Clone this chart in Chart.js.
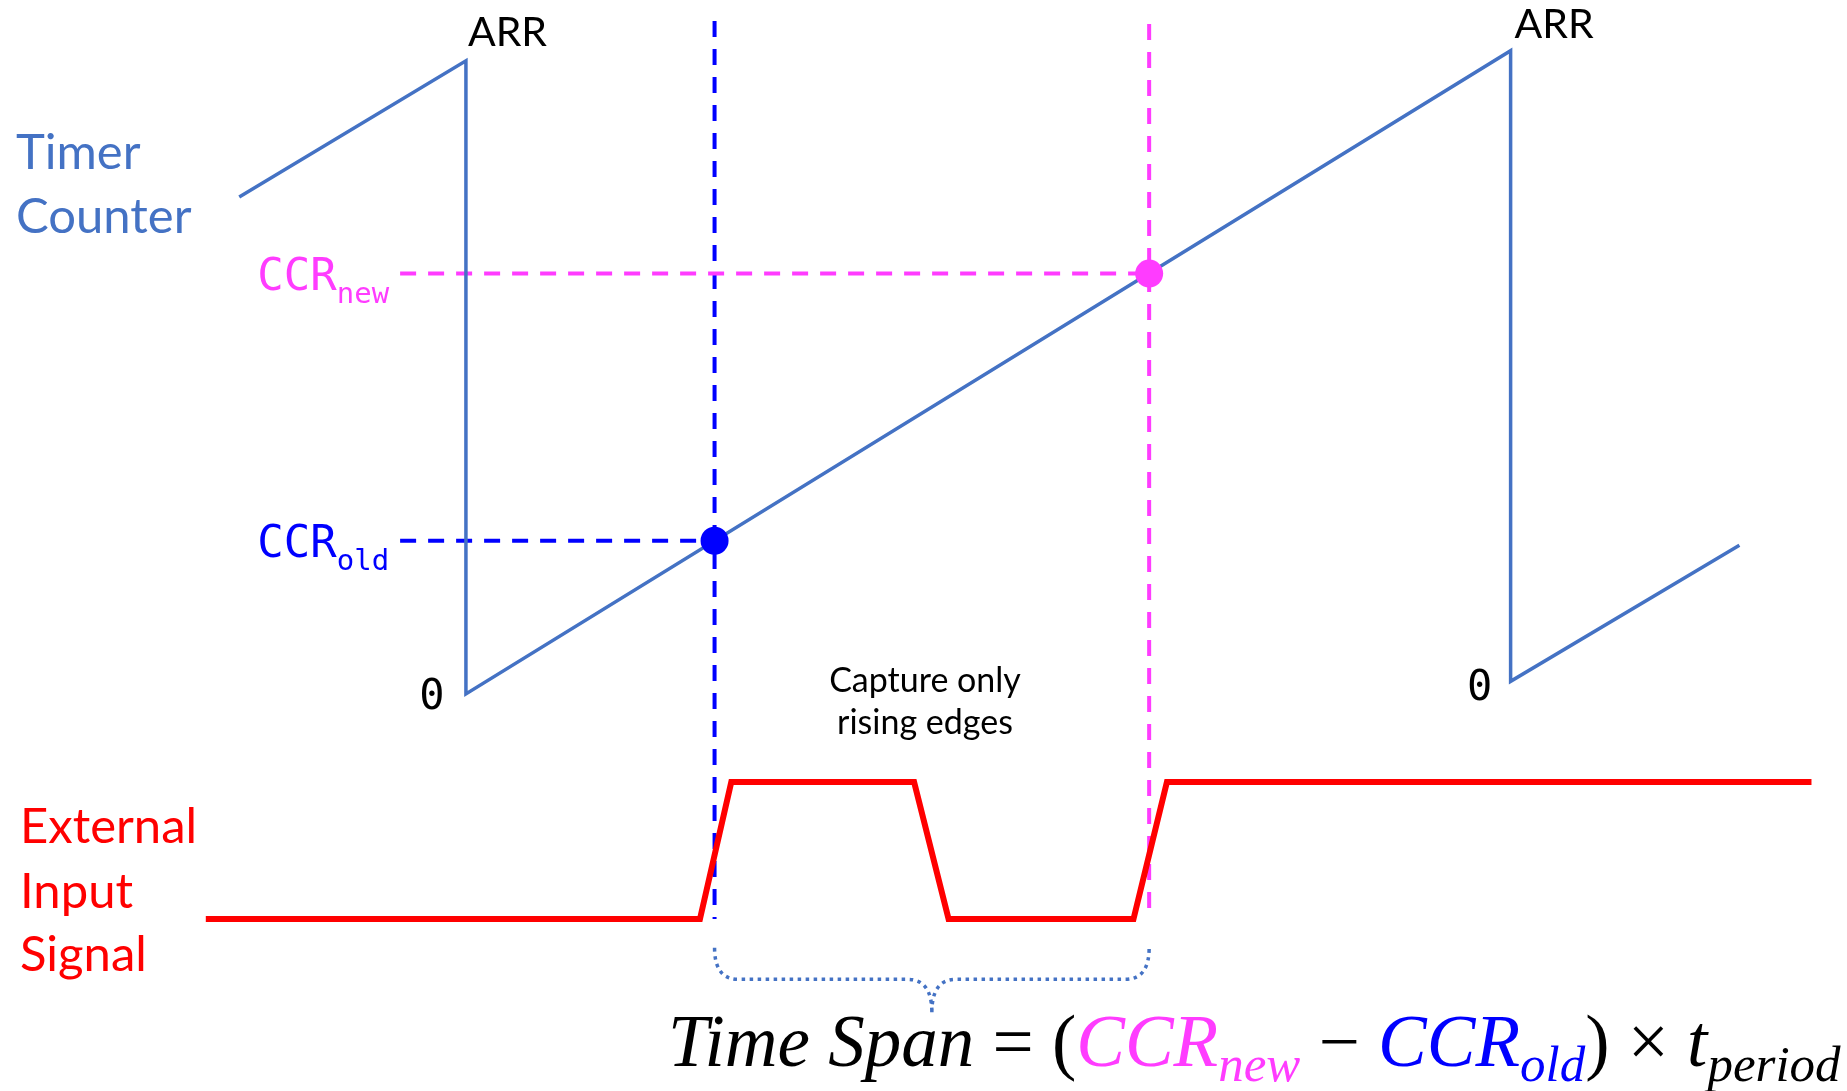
<!DOCTYPE html>
<html>
<head>
<meta charset="utf-8">
<script src="https://cdn.jsdelivr.net/npm/chart.js@4.4.1/dist/chart.umd.min.js"></script>
<style>
html, body { margin: 0; padding: 0; background: #ffffff; }
#wrap { width: 1847px; height: 1091px; position: relative; }
</style>
</head>
<body>
<div id="wrap"><canvas id="myChart"></canvas></div>
<script>
// time axis: one timer period = 100 units (overflow at t=0 and t=100)
var counterTimes = [-21.7, 0, 0, 100, 100, 121.9];
var counterValues = [785, 1000, 0, 1016, 20, 235];

// external input signal (0 = low, 1 = high)
var signalTimes = [-24.9, 22.4, 25.4, 42.9, 46.2, 63.9, 67.1, 128.8];
var signalLevels = [0, 0, 1, 1, 0, 0, 1, 1];

// capture events: old, new
var captureTimes = [23.8, 65.4];
var captureValues = [242, 664];
var captureNames = ['old', 'new'];
var guideStart = -6.3;          // horizontal CCR guides start here
var guideTops = [1063, 1058];   // top of vertical guides (counter units)

var blueLine = '#4472c4';
var oldColor = '#0000ff';
var newColor = '#ff3cff';
var captureColors = [oldColor, newColor];

function pts(xs, ys) {
    var out = [];
    for (var i = 0; i < xs.length; i++) out.push({x: xs[i], y: ys[i]});
    return out;
}

// dashed vertical guides, drawn under the lines
var guidePlugin = {
    id: 'guides',
    beforeDatasetsDraw: function(chart) {
        var c = chart.ctx, sx = chart.scales.x, yc = chart.scales.yc, ys = chart.scales.ys;
        c.save();
        c.lineWidth = 4;
        c.setLineDash([16, 12]);
        for (var i = 0; i < captureTimes.length; i++) {
            var px = sx.getPixelForValue(captureTimes[i]);
            c.strokeStyle = captureColors[i];
            c.beginPath();
            c.moveTo(px, yc.getPixelForValue(guideTops[i]));
            c.lineTo(px, ys.getPixelForValue(0));
            c.stroke();
        }
        c.restore();
    }
};

// all texts + the brace
var textPlugin = {
    id: 'texts',
    afterDatasetsDraw: function(chart) {
        var c = chart.ctx, sx = chart.scales.x, yc = chart.scales.yc, ys = chart.scales.ys;
        c.save();
        c.textBaseline = 'middle';
        c.textAlign = 'left';

        // left titles
        c.font = '49px Lato';
        c.fillStyle = blueLine;
        c.fillText('Timer', 16, 153);
        c.fillText('Counter', 16, 217);
        c.fillStyle = '#ff0000';
        c.fillText('External', 20, 827);
        c.fillText('Input', 20, 892);
        c.fillText('Signal', 20, 955);

        // ARR and 0 near the sawtooth corners
        c.fillStyle = '#000';
        c.font = '41px Lato';
        c.fillText('ARR', sx.getPixelForValue(counterTimes[1]) + 2, yc.getPixelForValue(counterValues[1]) - 28);
        c.fillText('ARR', sx.getPixelForValue(counterTimes[3]) + 4, yc.getPixelForValue(counterValues[3]) - 26);
        c.font = '42px "DejaVu Sans Mono"';
        c.textAlign = 'center';
        c.fillText('0', sx.getPixelForValue(counterTimes[2]) - 34, yc.getPixelForValue(counterValues[2]) + 4);
        c.fillText('0', sx.getPixelForValue(counterTimes[4]) - 31, yc.getPixelForValue(counterValues[4]) + 8);

        // CCR labels at the left end of the horizontal guides
        c.textAlign = 'left';
        c.textBaseline = 'alphabetic';
        var endX = sx.getPixelForValue(guideStart) - 11;
        for (var i = 0; i < captureValues.length; i++) {
            var py = yc.getPixelForValue(captureValues[i]);
            c.fillStyle = captureColors[i];
            c.font = '29px "DejaVu Sans Mono"';
            var wSub = c.measureText(captureNames[i]).width;
            c.font = '44px "DejaVu Sans Mono"';
            var wMain = c.measureText('CCR').width;
            var x0 = endX - wSub - wMain;
            c.fillText('CCR', x0, py + 16);
            c.font = '29px "DejaVu Sans Mono"';
            c.fillText(captureNames[i], x0 + wMain, py + 29);
        }

        // note between the guides
        c.fillStyle = '#000';
        c.font = '34px Lato';
        c.textAlign = 'center';
        c.textBaseline = 'middle';
        c.fillText('Capture only', 925, 681);
        c.fillText('rising edges', 925, 723);

        // dotted brace under the captured span
        var xl = sx.getPixelForValue(captureTimes[0]), xr = sx.getPixelForValue(captureTimes[1]);
        var xm = (xl + xr) / 2;
        var yTop = ys.getPixelForValue(-0.21), yMid = ys.getPixelForValue(-0.44), yTip = ys.getPixelForValue(-0.68);
        var r = 24;
        c.strokeStyle = blueLine;
        c.lineWidth = 3.5;
        c.setLineDash([3.5, 4.5]);
        c.beginPath();
        c.moveTo(xl, yTop);
        c.quadraticCurveTo(xl, yMid, xl + r, yMid);
        c.lineTo(xm - r, yMid);
        c.quadraticCurveTo(xm, yMid, xm, yTip);
        c.moveTo(xm, yTip);
        c.quadraticCurveTo(xm, yMid, xm + r, yMid);
        c.lineTo(xr - r, yMid);
        c.quadraticCurveTo(xr, yMid, xr, yTop);
        c.stroke();
        c.setLineDash([]);

        // formula
        var parts = [
            {t: 'Time Span', col: '#000', it: true},
            {t: ' = (', col: '#000'},
            {t: 'CCR', col: newColor, it: true},
            {t: 'new', col: newColor, it: true, sub: true},
            {t: ' \u2212 ', col: '#000'},
            {t: 'CCR', col: oldColor, it: true},
            {t: 'old', col: oldColor, it: true, sub: true},
            {t: ') \u00d7 ', col: '#000'},
            {t: 't', col: '#000', it: true},
            {t: 'period', col: '#000', it: true, sub: true}
        ];
        function fnt(p, s) {
            return (p.it ? 'italic ' : '') + Math.round((p.sub ? 0.7 : 1) * s) + 'px "Liberation Serif"';
        }
        var size = 66, total = 0;
        c.textAlign = 'left';
        c.textBaseline = 'alphabetic';
        parts.forEach(function(p) { c.font = fnt(p, size); total += c.measureText(p.t).width; });
        size = size * 1170 / total;
        var fx = 668;
        parts.forEach(function(p) {
            c.font = fnt(p, size);
            c.fillStyle = p.col;
            c.fillText(p.t, fx, 1066 + (p.sub ? size * 0.2 : 0));
            fx += c.measureText(p.t).width;
        });
        c.restore();
    }
};

var ctx = document.getElementById('myChart').getContext('2d');
var guideData = [];
for (var i = 0; i < captureTimes.length; i++) {
    guideData.push({
        data: [{x: guideStart, y: captureValues[i]}, {x: captureTimes[i], y: captureValues[i]}],
        borderColor: captureColors[i], borderWidth: 4, borderDash: [16, 12],
        pointRadius: 0, showLine: true, yAxisID: 'yc', order: 5
    });
}

var myChart = new Chart(ctx, {
    type: 'scatter',
    data: {
        datasets: [
            {
                label: 'Capture',
                data: pts(captureTimes, captureValues),
                pointRadius: 14, pointBackgroundColor: captureColors, pointBorderWidth: 0,
                showLine: false, yAxisID: 'yc', order: 0
            },
            {
                label: 'Timer Counter',
                data: pts(counterTimes, counterValues),
                borderColor: blueLine, borderWidth: 3.5, pointRadius: 0,
                showLine: true, tension: 0, yAxisID: 'yc', order: 2
            },
            {
                label: 'External Input Signal',
                data: pts(signalTimes, signalLevels),
                borderColor: '#ff0000', borderWidth: 6, pointRadius: 0,
                showLine: true, tension: 0, yAxisID: 'ys', order: 1
            }
        ].concat(guideData)
    },
    options: {
        responsive: true,
        maintainAspectRatio: false,
        animation: false,
        layout: { padding: 0, autoPadding: false },
        plugins: { legend: { display: false }, tooltip: { enabled: false } },
        scales: {
            x: { type: 'linear', min: -44.6, max: 132.2, display: false },
            yc: { type: 'linear', min: -627, max: 1096, display: false },
            ys: { type: 'linear', min: -1.255, max: 6.71, display: false }
        }
    },
    plugins: [guidePlugin, textPlugin]
});
</script>
</body>
</html>
